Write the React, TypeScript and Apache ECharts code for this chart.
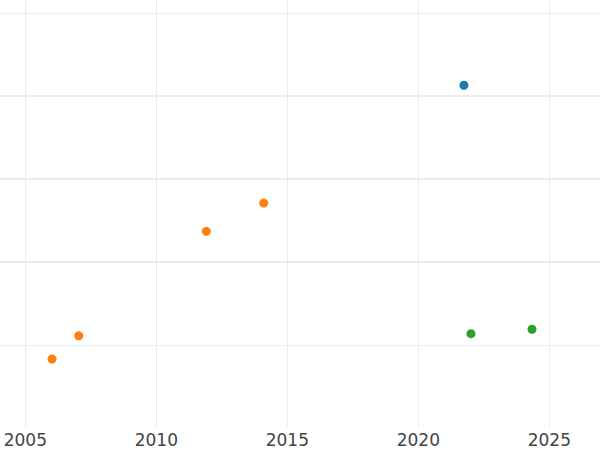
import React, { useEffect, useRef } from "react";
import * as echarts from "echarts";

const yearTicks = [2005, 2010, 2015, 2020, 2025];
const majorY = [1, 2, 3];
const minorY = [0, 4];

const blueSeries: [number, number][] = [[2021.74, 3.13]];
const orangeSeries: [number, number][] = [
  [2006.02, -0.17],
  [2007.04, 0.11],
  [2011.91, 1.37],
  [2014.1, 1.71],
];
const greenSeries: [number, number][] = [
  [2022.01, 0.136],
  [2024.34, 0.19],
];

export default function App() {
  const ref = useRef<HTMLDivElement>(null);
  useEffect(() => {
    if (!ref.current) return;
    const chart = echarts.init(ref.current, null, { renderer: "svg" });
    const yBase = {
      type: "value",
      min: -0.988,
      max: 4.157,
      axisLine: { show: false },
      axisLabel: { show: false },
    };
    chart.setOption({
      animation: false,
      backgroundColor: "#ffffff",
      grid: { left: 0, right: 0, top: 0, bottom: 23, containLabel: false },
      xAxis: {
        type: "value",
        min: 2004.034,
        max: 2026.935,
        axisLine: { show: false },
        axisTick: { show: false, customValues: yearTicks },
        axisLabel: {
          customValues: yearTicks,
          fontSize: 17,
          color: "#444444",
          fontFamily: "DejaVu Sans",
          margin: 4,
          formatter: (v: number) => String(Math.round(v)),
        },
        splitLine: { show: true, lineStyle: { color: "#ebebeb", width: 1 } },
      },
      yAxis: [
        {
          ...yBase,
          axisTick: { show: false, customValues: majorY },
          splitLine: { show: true, lineStyle: { color: "#ebebeb", width: 2 } },
        },
        {
          ...yBase,
          axisTick: { show: false, customValues: minorY },
          splitLine: { show: true, lineStyle: { color: "#ebebeb", width: 1 } },
        },
      ],
      series: [
        { type: "scatter", data: blueSeries, symbolSize: 9, itemStyle: { color: "#1f77b4", opacity: 1 } },
        { type: "scatter", data: orangeSeries, symbolSize: 9, itemStyle: { color: "#ff7f0e", opacity: 1 } },
        { type: "scatter", data: greenSeries, symbolSize: 9, itemStyle: { color: "#2ca02c", opacity: 1 } },
      ],
    });
    return () => chart.dispose();
  }, []);
  return <div ref={ref} style={{ width: 600, height: 450, position: "fixed", left: 0, top: 0 }} />;
}
